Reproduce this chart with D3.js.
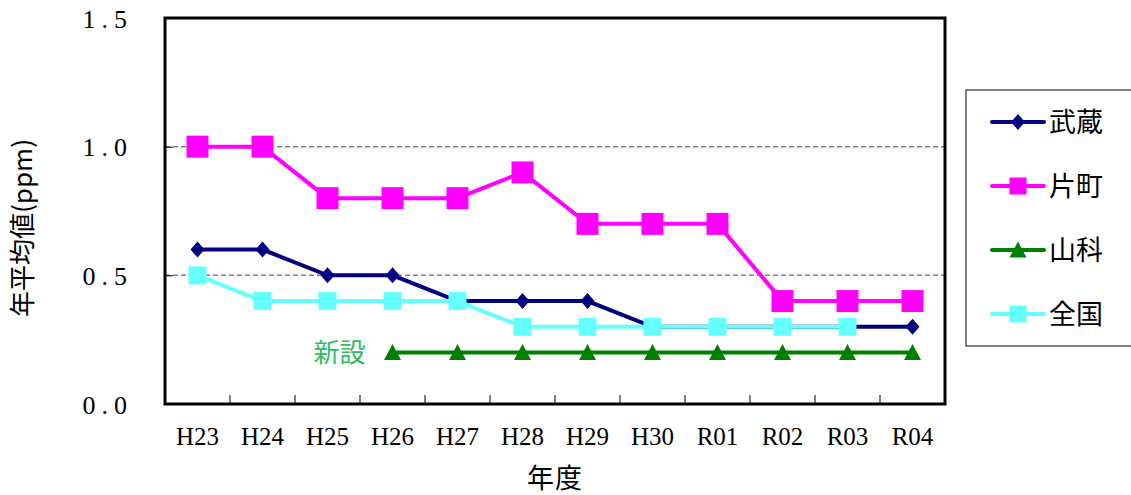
<!DOCTYPE html>
<html><head><meta charset="utf-8">
<script src="https://cdn.jsdelivr.net/npm/d3@7"></script>
<style>body{margin:0;background:#fff}svg{display:block}</style>
</head><body>
<script>
const categories = ["H23","H24","H25","H26","H27","H28","H29","H30","R01","R02","R03","R04"];
const musashi = [0.6,0.6,0.5,0.5,0.4,0.4,0.4,0.3,0.3,0.3,0.3,0.3];
const katamachi = [1.0,1.0,0.8,0.8,0.8,0.9,0.7,0.7,0.7,0.4,0.4,0.4];
const yamashina = [null,null,null,0.2,0.2,0.2,0.2,0.2,0.2,0.2,0.2,0.2];
const zenkoku = [0.5,0.4,0.4,0.4,0.4,0.3,0.3,0.3,0.3,0.3,0.3,null];
const yTicks = [0.0,0.5,1.0,1.5];
const seriesNames = ["武蔵","片町","山科","全国"];

const W=1131,H=495;
const m={l:165,r:945,t:18,b:404};
const svg=d3.select("body").append("svg").attr("width",W).attr("height",H);
const x=d3.scaleBand().domain(categories).range([m.l,m.r]);
const y=d3.scaleLinear().domain([0,1.5]).range([m.b,m.t]);
const serif="'Liberation Serif','Times New Roman',serif";
const cjk="'Noto Sans CJK JP',sans-serif";

// gridlines
svg.append("g").selectAll("line").data([0.5,1.0]).join("line")
  .attr("x1",m.l).attr("x2",m.r).attr("y1",d=>y(d)).attr("y2",d=>y(d))
  .attr("stroke","#808080").attr("stroke-width",1.5).attr("stroke-dasharray","5,3");

// y axis ticks & labels
const ya=svg.append("g").attr("transform",`translate(${m.l},0)`)
  .call(d3.axisLeft(y).tickValues(yTicks).tickSize(-8).tickPadding(32).tickFormat(d3.format(".1f")));
ya.select(".domain").remove();
ya.selectAll("line").attr("stroke","#000").attr("stroke-width",1);
ya.selectAll("text").attr("font-family",serif).attr("font-size",26).attr("letter-spacing","6px")
  .attr("dy","0.35em").attr("fill","#000");

// x axis
const xa=svg.append("g").attr("transform",`translate(0,${m.b})`)
  .call(d3.axisBottom(x).tickSize(0).tickPadding(23));
xa.select(".domain").remove();
xa.selectAll("text").attr("font-family",serif).attr("font-size",25).attr("fill","#000");
// x boundary ticks inside
svg.append("g").selectAll("line").data(categories.slice(1)).join("line")
  .attr("x1",d=>x(d)).attr("x2",d=>x(d)).attr("y1",m.b).attr("y2",m.b-9)
  .attr("stroke","#000").attr("stroke-width",1);

// frame
svg.append("rect").attr("x",m.l).attr("y",m.t).attr("width",m.r-m.l).attr("height",m.b-m.t)
  .attr("fill","none").attr("stroke","#000").attr("stroke-width",3);

const cx=i=>x(categories[i])+x.bandwidth()/2;
const series=[
  {name:seriesNames[0],data:musashi,color:"#000080",shape:"diamond",size:14},
  {name:seriesNames[1],data:katamachi,color:"#FF00FF",shape:"square",size:22},
  {name:seriesNames[2],data:yamashina,color:"#008000",shape:"triangle",size:17},
  {name:seriesNames[3],data:zenkoku,color:"#66FFFF",shape:"square",size:18},
];
function marker(g,s,px,py){
  const h=s.size/2;
  if(s.shape==="square") g.append("rect").attr("x",px-h).attr("y",py-h).attr("width",s.size).attr("height",s.size).attr("fill",s.color);
  else if(s.shape==="diamond") g.append("path").attr("d",`M${px},${py-h-1}L${px+h},${py}L${px},${py+h+1}L${px-h},${py}Z`).attr("fill",s.color);
  else g.append("path").attr("d",`M${px},${py-h}L${px+h},${py+h-1}L${px-h},${py+h-1}Z`).attr("fill",s.color);
}
const line=d3.line().defined(d=>d!=null).x((d,i)=>cx(i)).y(d=>y(d));
series.forEach(s=>{
  const g=svg.append("g");
  g.append("path").attr("d",line(s.data)).attr("fill","none").attr("stroke",s.color).attr("stroke-width",4);
  s.data.forEach((v,i)=>{ if(v!=null) marker(g,s,cx(i),y(v)); });
});

// annotation
svg.append("text").attr("x",cx(3)-27).attr("y",y(0.2)+9).attr("text-anchor","end")
  .attr("font-family",cjk).attr("font-size",26).attr("fill","#2DBE62").text("新設");

// titles
svg.append("text").attr("transform",`translate(32,228) rotate(-90)`).attr("text-anchor","middle")
  .attr("font-family",cjk).attr("font-size",26).attr("fill","#000").text("年平均値(ppm)");
svg.append("text").attr("x",555).attr("y",488).attr("text-anchor","middle")
  .attr("font-family",cjk).attr("font-size",27).attr("letter-spacing","1px").attr("fill","#000").text("年度");

// legend
const lg=svg.append("g");
lg.append("rect").attr("x",966).attr("y",90).attr("width",175).attr("height",256)
  .attr("fill","#fff").attr("stroke","#000").attr("stroke-width",1);
series.forEach((s,i)=>{
  const ly=122+i*64;
  lg.append("line").attr("x1",992).attr("x2",1044).attr("y1",ly).attr("y2",ly)
    .attr("stroke",s.color).attr("stroke-width",4).attr("stroke-linecap","round");
  marker(lg,{...s,size:s.shape==="diamond"?14:17},1018,ly);
  lg.append("text").attr("x",1049).attr("y",ly+10).attr("font-family",cjk).attr("font-size",27).attr("fill","#000").text(s.name);
});
</script>
</body></html>
